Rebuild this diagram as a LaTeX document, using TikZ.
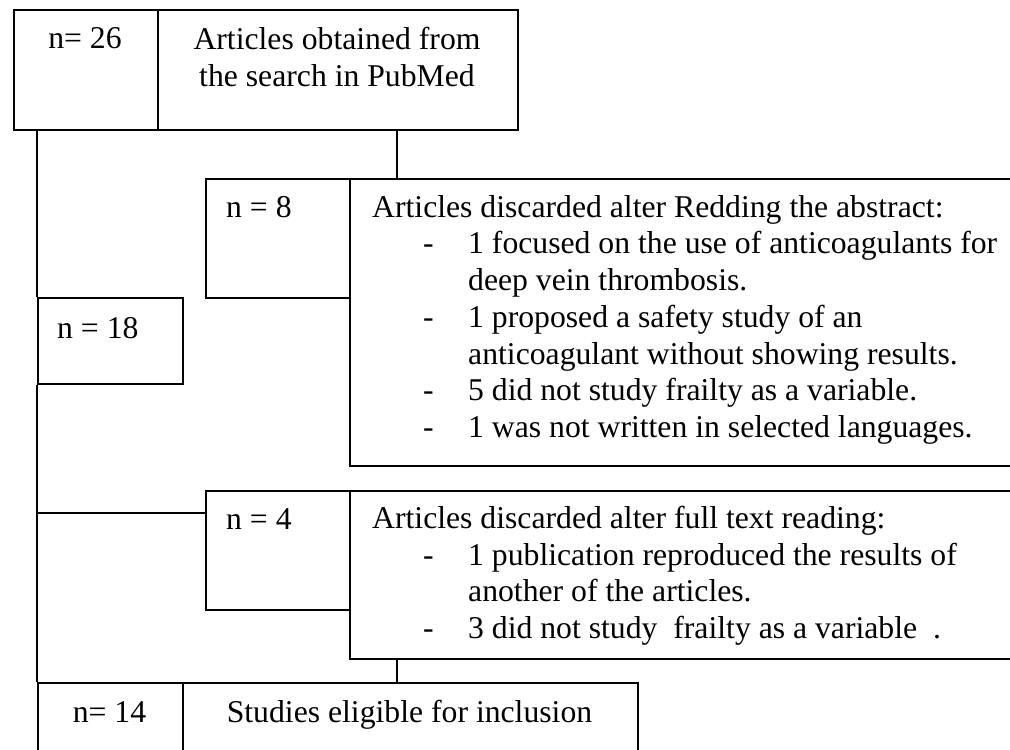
\documentclass[tikz,border=0pt]{standalone}
\usepackage{fontspec}
\setmainfont{Liberation Serif}
\usepackage{tikz}
\usetikzlibrary{calc, positioning}
\tikzstyle{cell} = [draw=black, line width=2pt, inner sep=0pt, anchor=north west]
\tikzstyle{lbl} = [inner sep=0pt, anchor=base, font=\fontsize{31.7}{37}\selectfont]
\tikzstyle{listtxt} = [inner sep=0pt, anchor=north west, align=left, font=\fontsize{31.7}{36.7}\selectfont]
\tikzstyle{link} = [line width=2pt]
\newcommand{\itm}{\hspace*{51pt}\makebox[45pt][l]{-}}
\newcommand{\itmcont}{\hspace*{96pt}}

\begin{document}
\begin{tikzpicture}[x=1pt, y=-1pt]
	\clip (0,0) rectangle (1010,750);
	\fill[white] (0,0) rectangle (1010,750);
	% boxes
	\node (TopN) [cell, minimum width=144pt, minimum height=120pt] at (13,9) {};
	\node (TopText) [cell, minimum width=360pt, minimum height=120pt] at (157,9) {};
	\node (DiscAN) [cell, minimum width=144pt, minimum height=119pt] at (205,178) {};
	\node (DiscAText) [cell, minimum width=700pt, minimum height=287pt] at (349,178) {};
	\node (Remain) [cell, minimum width=145pt, minimum height=86pt] at (37,297) {};
	\node (DiscBN) [cell, minimum width=144pt, minimum height=119pt] at (205,490) {};
	\node (DiscBText) [cell, minimum width=700pt, minimum height=168pt] at (349,490) {};
	\node (StudN) [cell, minimum width=145pt, minimum height=100pt] at (37,682) {};
	\node (StudText) [cell, minimum width=455pt, minimum height=100pt] at (182,682) {};
	% texts
	\node (TopNLabel) [lbl] at (85,48) {n= 26};
	\node (TopLabel) [listtxt, anchor=north, align=center] at (337,27) {Articles obtained from\\the search in PubMed};
	\node (DiscANLabel) [lbl, anchor=base west] at (226,217) {n = 8};
	\node (DiscALabel) [listtxt] at (372,195) {Articles discarded alter Redding the abstract:\\
		\itm 1 focused on the use of anticoagulants for\\
		\itmcont deep vein thrombosis.\\
		\itm 1 proposed a safety study of an\\
		\itmcont anticoagulant without showing results.\\
		\itm 5 did not study frailty as a variable.\\
		\itm 1 was not written in selected languages.};
	\node (RemainLabel) [lbl, anchor=base west] at (57,338) {n = 18};
	\node (DiscBNLabel) [lbl, anchor=base west] at (226,529) {n = 4};
	\node (DiscBLabel) [listtxt] at (372,506) {Articles discarded alter full text reading:\\
		\itm 1 publication reproduced the results of\\
		\itmcont another of the articles.\\
		\itm 3 did not study\ \ frailty as a variable\ \ .};
	\node (StudNLabel) [lbl] at (109.5,722) {n= 14};
	\node (StudLabel) [lbl] at (409.5,722) {Studies eligible for inclusion};
	% connectors
	\coordinate (Split) at (37,513);
	\coordinate (Drop) at (397,0);
	\draw[link] (TopN.south -| Remain.west) -- (Remain.north west);
	\draw[link] (Remain.south west) -- (StudN.north west);
	\draw[link] (Split) -- (Split -| DiscBN.west);
	\draw[link] (Drop |- TopText.south) -- (Drop |- DiscAText.north);
	\draw[link] (Drop |- DiscBText.south) -- (Drop |- StudText.north);
\end{tikzpicture}
\end{document}
